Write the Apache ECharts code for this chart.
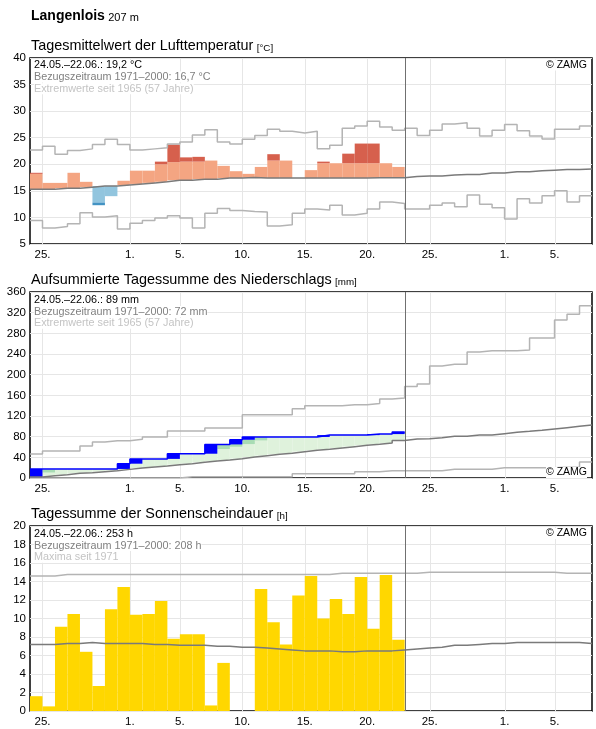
<!DOCTYPE html>
<html>
<head>
<meta charset="utf-8">
<title>Langenlois</title>
<script src="https://cdn.jsdelivr.net/npm/echarts@6.0.0/dist/echarts.min.js"></script>
<style>
  html, body { margin: 0; padding: 0; background: #fff; }
  #chart { width: 596px; height: 729px; }
</style>
</head>
<body>
<div id="chart"></div>
<script>
// x = day index, 0 = start of 24.05., 45 days shown, period ends at day 30 (22.06.)
var tickPos = [1, 8, 12, 17, 22, 27, 32, 38, 42];
var tickLabels = ['25.', '1.', '5.', '10.', '15.', '20.', '25.', '1.', '5.'];
var periodEnd = 30;

// Tagesmittel Lufttemperatur (24.05.-22.06.)
var tempMean = [18.4, 16.5, 16.5, 18.4, 16.7, 12.3, 14.0, 16.9, 18.8, 18.8,
  20.5, 23.7, 21.3, 21.4, 20.7, 19.7, 18.7, 18.2, 19.5, 21.9,
  20.7, 17.4, 18.9, 20.5, 20.2, 22.0, 23.9, 23.9, 20.2, 19.5];
// edge between light and dark shading
var tempEdge = [18.2, 16.5, 16.5, 18.4, 16.7, 12.8, 14.0, 16.9, 18.8, 18.8,
  20.0, 20.4, 20.5, 20.5, 20.7, 19.7, 18.7, 18.2, 19.5, 20.7,
  20.7, 17.4, 18.9, 20.2, 20.2, 20.2, 20.2, 20.2, 20.2, 19.5];
var tempNormal = [15.3, 15.3, 15.5, 15.5, 15.7, 15.9, 15.9, 16.1, 16.3, 16.5,
  16.7, 17.0, 17.0, 17.2, 17.2, 17.4, 17.4, 17.5, 17.4, 17.4,
  17.4, 17.4, 17.4, 17.4, 17.4, 17.4, 17.4, 17.45, 17.45, 17.45,
  17.7, 17.8, 17.8, 18.0, 18.1, 18.1, 18.35, 18.35, 18.6, 18.6,
  18.8, 18.9, 19.0, 19.0, 19.1];
var tempMax = [22.7, 23.4, 21.9, 22.6, 22.9, 23.7, 24.7, 23.7, 22.7, 22.9,
  23.1, 23.8, 24.2, 25.5, 26.5, 24.2, 23.8, 24.7, 25.4, 26.6,
  26.2, 25.9, 26.2, 22.9, 23.6, 26.8, 27.2, 28.1, 27.0, 26.4,
  26.8, 25.4, 26.4, 27.6, 27.8, 26.8, 25.3, 26.4, 27.5, 26.3,
  25.3, 24.75, 26.6, 26.6, 27.2];
var tempMin = [9.4, 8.0, 8.3, 8.8, 10.9, 10.1, 10.3, 7.8, 8.9, 9.4,
  9.9, 10.3, 9.9, 8.0, 10.8, 11.7, 11.3, 11.1, 11.0, 8.4,
  8.6, 10.8, 11.6, 11.4, 12.3, 10.45, 10.8, 11.6, 12.9, 12.6,
  11.6, 11.6, 12.3, 12.7, 12.0, 14.2, 12.5, 11.8, 9.7, 13.5,
  12.7, 14.1, 15.0, 12.9, 14.1];

// aufsummierter Niederschlag (mm)
var rainCum = [17.5, 17.5, 17.5, 17.5, 17.5, 17.5, 17.5, 27.7, 37.0, 37.0,
  37.0, 47.0, 47.0, 47.0, 65.0, 65.0, 74.0, 79.5, 79.5, 79.5,
  79.5, 79.5, 79.5, 83.0, 83.0, 83.0, 83.0, 85.0, 85.0, 89.0];
var rainNormal = [1.9, 4.5, 6.4, 9.0, 10.3, 12.2, 14.1, 16.7, 19.3, 21.3,
  23.2, 25.8, 27.7, 30.3, 32.9, 34.8, 37.4, 40.6, 43.2, 45.8,
  47.7, 51.0, 53.6, 55.5, 58.1, 60.7, 63.3, 65.2, 67.7, 72.5,
  75.5, 76.2, 78.0, 81.0, 81.0, 83.2, 83.2, 85.8, 88.4, 90.3,
  92.3, 94.9, 97.4, 100.0, 102.6];
var rainMax = [46.5, 52.5, 52.5, 52.5, 62.0, 69.5, 72.3, 72.3, 74.9, 79.4,
  79.4, 91.0, 91.0, 91.0, 96.8, 96.8, 96.8, 122.5, 122.5, 122.5,
  122.5, 134.0, 140.0, 140.0, 140.0, 142.0, 142.0, 144.0, 153.0, 155.0,
  177.0, 182.0, 217.0, 220.0, 220.0, 244.0, 246.4, 246.4, 246.4, 247.7,
  271.0, 271.0, 306.0, 317.0, 333.5];
var rainMin = [0, 0, 0, 0, 0, 0, 0, 0, 0, 0,
  0, 0, 2.5, 2.5, 2.5, 2.5, 2.5, 2.5, 2.5, 2.5,
  2.5, 8.0, 8.0, 8.0, 8.0, 8.0, 12.0, 12.0, 14.0, 14.0,
  14.0, 14.0, 14.0, 17.0, 17.0, 17.0, 17.0, 20.0, 20.0, 20.0,
  20.0, 20.0, 21.0, 21.0, 31.0];
// [day, low, high] of the darker green marks
var rainMidBlocks = [[1, 10.8, 16.0], [15, 56.0, 64.4], [16, 60.5, 65.7], [17, 65.7, 74.0], [18, 72.9, 79.3]];

// Sonnenscheindauer (h)
var sunHours = [1.6, 0.5, 9.1, 10.5, 6.4, 2.7, 11.0, 13.4, 10.4, 10.5,
  11.9, 7.8, 8.3, 8.3, 0.6, 5.2, 0, 0, 13.2, 9.6,
  7.2, 12.5, 14.6, 10.0, 12.1, 10.5, 14.5, 8.9, 14.7, 7.7];
var sunNormal = [7.2, 7.2, 7.3, 7.3, 7.4, 7.3, 7.3, 7.3, 7.3, 7.2,
  7.2, 7.1, 7.1, 7.1, 7.0, 7.0, 6.9, 6.9, 6.8, 6.7,
  6.6, 6.5, 6.5, 6.5, 6.4, 6.4, 6.5, 6.5, 6.5, 6.6,
  6.7, 6.8, 6.9, 7.1, 7.1, 7.2, 7.3, 7.3, 7.4, 7.4,
  7.4, 7.4, 7.4, 7.4, 7.3];
var sunMax = [14.6, 14.6, 14.75, 14.75, 14.75, 14.75, 14.75, 14.75, 14.75, 14.75,
  14.75, 14.75, 14.75, 14.75, 14.75, 14.75, 14.75, 14.75, 14.75, 14.75,
  14.75, 14.75, 14.75, 14.75, 14.9, 14.9, 14.9, 14.9, 14.9, 14.9,
  14.9, 15.0, 15.0, 15.0, 15.0, 15.0, 15.0, 15.0, 15.0, 15.0,
  15.0, 15.0, 14.9, 14.9, 14.9];

var FONT = 'Liberation Sans, Arial, sans-serif';
var yRanges = [[5, 40, 5], [0, 360, 40], [0, 20, 2]];

function stepData(arr) {
  var d = arr.map(function (v, i) { return [i, v]; });
  d.push([arr.length, arr[arr.length - 1]]);
  return d;
}

function rectSeries(g, data, color, z) {
  return {
    type: 'custom', xAxisIndex: g, yAxisIndex: g, z: z || 2, silent: true,
    encode: { x: [0, 1], y: [2, 3] },
    data: data,
    renderItem: function (params, api) {
      var a = api.coord([api.value(0), api.value(2)]);
      var b = api.coord([api.value(1), api.value(3)]);
      return {
        type: 'rect',
        shape: { x: Math.min(a[0], b[0]), y: Math.min(a[1], b[1]),
          width: Math.abs(b[0] - a[0]), height: Math.abs(b[1] - a[1]) },
        style: { fill: color }
      };
    }
  };
}

function stepSeries(g, arr, color, width, z) {
  return {
    type: 'line', xAxisIndex: g, yAxisIndex: g, step: 'end', silent: true,
    data: stepData(arr), showSymbol: false, symbol: 'none', z: z || 3,
    lineStyle: { color: color, width: width }
  };
}

function vlineSeries(g, xs, color, width, z) {
  var r = yRanges[g];
  return {
    type: 'custom', xAxisIndex: g, yAxisIndex: g, z: z, silent: true,
    encode: { x: 0, y: [1, 2] },
    data: xs.map(function (x) { return [x, r[0], r[1]]; }),
    renderItem: function (params, api) {
      var a = api.coord([api.value(0), api.value(1)]);
      var b = api.coord([api.value(0), api.value(2)]);
      var x = Math.round(a[0]) + 0.5;
      return { type: 'line', shape: { x1: x, y1: a[1], x2: x, y2: b[1] },
        style: { stroke: color, lineWidth: width } };
    }
  };
}

// temperature shading
var tempWarmLight = [], tempWarmDark = [], tempColdLight = [], tempColdDark = [];
tempMean.forEach(function (v, i) {
  var n = tempNormal[i], e = tempEdge[i];
  if (v > n) {
    tempWarmLight.push([i, i + 1, n, Math.min(v, e)]);
    if (v > e) tempWarmDark.push([i, i + 1, e, v]);
  } else if (v < n) {
    tempColdLight.push([i, i + 1, Math.max(v, e), n]);
    if (v < e) tempColdDark.push([i, i + 1, v, e]);
  }
});

// precipitation shading
var rainFill = [], rainBlocks = [];
rainCum.forEach(function (v, i) {
  if (v > rainNormal[i]) rainFill.push([i, i + 1, rainNormal[i], v]);
  var prev = i === 0 ? 0 : rainCum[i - 1];
  if (v > prev) rainBlocks.push([i, i + 1, prev, v]);
});
var rainMid = rainMidBlocks.map(function (b) { return [b[0], b[0] + 1, b[1], b[2]]; });

var sunBars = sunHours.map(function (v, i) { return [i, i + 1, 0, v]; });

var grids = [
  { left: 30, top: 58, width: 562, height: 186 },
  { left: 30, top: 292, width: 562, height: 186 },
  { left: 30, top: 526, width: 562, height: 185 }
];

function xAxisFor(g) {
  return {
    type: 'value', gridIndex: g, min: 0, max: 45,
    axisLine: { show: false }, axisTick: { show: false }, splitLine: { show: false },
    axisLabel: {
      customValues: tickPos, fontSize: 11.5, margin: 5, fontFamily: FONT,
      formatter: function (v) { var k = tickPos.indexOf(v); return k >= 0 ? tickLabels[k] : ''; },
      color: function (v) { var k = tickPos.indexOf(v); return tickLabels[k] === '1.' ? '#3a1050' : '#000'; }
    }
  };
}

function yAxisFor(g) {
  var r = yRanges[g];
  return {
    type: 'value', gridIndex: g, min: r[0], max: r[1], interval: r[2],
    axisLine: { show: false }, axisTick: { show: false },
    splitLine: { lineStyle: { color: '#e6e6e6', width: 1 } },
    axisLabel: { fontSize: 11.5, color: '#000', margin: 4, fontFamily: FONT }
  };
}

function legendTexts(top, lines) {
  var colors = ['#000', '#808080', '#c4c4c4'];
  return lines.map(function (t, i) {
    return { type: 'text', x: 34, y: top + i * 11.6, z: 100,
      style: { text: t, font: '10.8px ' + FONT, fill: colors[i], verticalAlign: 'middle',
        backgroundColor: '#fff' } };
  });
}

function zamg(y) {
  return { type: 'text', x: 587, y: y, z: 100,
    style: { text: '© ZAMG', font: '10.5px ' + FONT, fill: '#000', align: 'right',
      verticalAlign: 'middle', backgroundColor: '#fff' } };
}

function title(y, main, unit) {
  return { type: 'text', x: 31, y: y, z: 100,
    style: { text: '{t|' + main + '} {u|' + unit + '}', fill: '#000', verticalAlign: 'middle',
      rich: { t: { fontSize: 14.4, fontFamily: FONT, lineHeight: 18, verticalAlign: 'bottom' },
        u: { fontSize: 9.8, fontFamily: FONT, lineHeight: 18, verticalAlign: 'bottom' } } } };
}

var graphics = [
  { type: 'text', x: 31, y: 14, z: 100,
    style: { text: '{a|Langenlois} {b|207 m}', verticalAlign: 'middle', fill: '#000',
      rich: { a: { fontSize: 14, fontWeight: 'bold', fontFamily: FONT, lineHeight: 18, verticalAlign: 'bottom' },
        b: { fontSize: 11, fontFamily: FONT, lineHeight: 18, verticalAlign: 'bottom' } } } },
  title(44, 'Tagesmittelwert der Lufttemperatur', '[°C]'),
  title(278, 'Aufsummierte Tagessumme des Niederschlags', '[mm]'),
  title(512, 'Tagessumme der Sonnenscheindauer', '[h]'),
  zamg(65), zamg(472.5), zamg(533.5)
].concat(
  legendTexts(65.5, ['24.05.–22.06.: 19,2 °C', 'Bezugszeitraum 1971–2000: 16,7 °C', 'Extremwerte seit 1965 (57 Jahre)']),
  legendTexts(300, ['24.05.–22.06.: 89 mm', 'Bezugszeitraum 1971–2000: 72 mm', 'Extremwerte seit 1965 (57 Jahre)']),
  legendTexts(534, ['24.05.–22.06.: 253 h', 'Bezugszeitraum 1971–2000: 208 h', 'Maxima seit 1971'])
);

var series = [];
[0, 1, 2].forEach(function (g) {
  series.push(vlineSeries(g, tickPos, '#e6e6e6', 1, 1));
});

// Temperatur
series.push(rectSeries(0, tempWarmLight, '#f4a582'));
series.push(rectSeries(0, tempWarmDark, '#d6604d'));
series.push(rectSeries(0, tempColdLight, '#92c5de'));
series.push(rectSeries(0, tempColdDark, '#4393c3'));
series.push(stepSeries(0, tempMax, '#b4b4b4', 1.5));
series.push(stepSeries(0, tempMin, '#b4b4b4', 1.5));
series.push(stepSeries(0, tempNormal, '#7a7a7a', 1.5));

// Niederschlag
series.push(rectSeries(1, rainFill, '#dff2dc'));
series.push(rectSeries(1, rainMid, '#a8dcb4'));
series.push(rectSeries(1, rainBlocks, '#0000ff'));
series.push(stepSeries(1, rainMax, '#b4b4b4', 1.5));
series.push(stepSeries(1, rainMin, '#b4b4b4', 1.5));
series.push(stepSeries(1, rainNormal, '#7a7a7a', 1.5));
series.push(stepSeries(1, rainCum, '#0000ff', 1.5, 4));

// Sonnenschein
series.push(rectSeries(2, sunBars, '#ffd700'));
series.push(stepSeries(2, sunMax, '#b4b4b4', 1.5));
series.push(stepSeries(2, sunNormal, '#7a7a7a', 1.5));

[0, 1, 2].forEach(function (g) {
  series.push(vlineSeries(g, [periodEnd], '#707070', 1, 5));
});

var chart = echarts.init(document.getElementById('chart'), null, { renderer: 'canvas' });
chart.setOption({
  animation: false,
  backgroundColor: '#fff',
  textStyle: { fontFamily: FONT },
  grid: grids.map(function (g) {
    return Object.assign({ show: true, borderColor: '#000', borderWidth: 1.5, backgroundColor: 'transparent' }, g);
  }),
  xAxis: [0, 1, 2].map(xAxisFor),
  yAxis: [0, 1, 2].map(yAxisFor),
  graphic: graphics,
  series: series
});
</script>
</body>
</html>
